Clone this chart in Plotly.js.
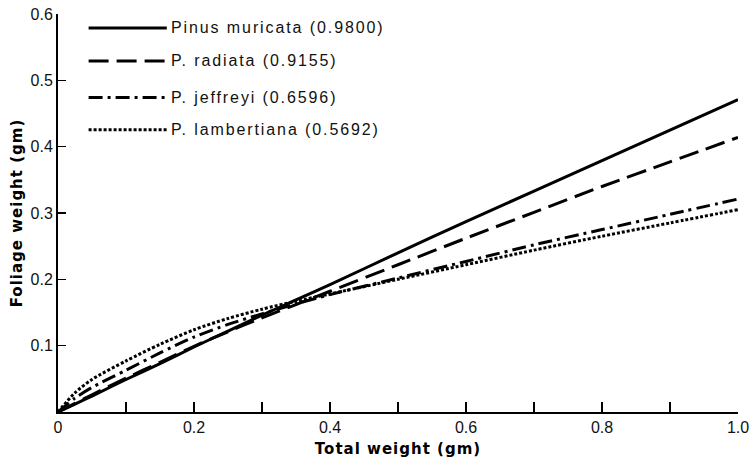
<!DOCTYPE html>
<html>
<head>
<meta charset="utf-8">
<script src="https://cdn.plot.ly/plotly-3.0.1.min.js"></script>
<style>
  html, body { margin: 0; padding: 0; background: #fff; }
  #chart { width: 752px; height: 459px; }
  .annotation-text { letter-spacing: 1.9px; }
  .xtitle, .ytitle { letter-spacing: 1px; }
</style>
</head>
<body>
<div id="chart"></div>
<script>
// Data
const totalWeight = [0, 0.025, 0.05, 0.1, 0.15, 0.2, 0.25, 0.3, 0.35, 0.4, 0.5, 0.6, 0.7, 0.8, 0.9, 1.0];
const muricata    = [0, 0.012, 0.024, 0.049, 0.073, 0.098, 0.122, 0.146, 0.169, 0.192, 0.240, 0.287, 0.333, 0.379, 0.425, 0.471];
const radiata     = [0, 0.013, 0.026, 0.051, 0.075, 0.099, 0.121, 0.142, 0.162, 0.182, 0.222, 0.262, 0.301, 0.340, 0.377, 0.414];
const jeffreyi    = [0, 0.021, 0.037, 0.063, 0.089, 0.113, 0.132, 0.148, 0.163, 0.177, 0.202, 0.227, 0.252, 0.275, 0.298, 0.321];
const lambertiana = [0, 0.029, 0.049, 0.077, 0.102, 0.124, 0.141, 0.155, 0.167, 0.178, 0.200, 0.222, 0.244, 0.265, 0.285, 0.305];

const seriesNames = ['Pinus muricata (0.9800)', 'P. radiata (0.9155)', 'P. jeffreyi (0.6596)', 'P. lambertiana (0.5692)'];
const seriesData  = [muricata, radiata, jeffreyi, lambertiana];

const xTickVals = [0, 0.1, 0.2, 0.3, 0.4, 0.5, 0.6, 0.7, 0.8, 0.9, 1.0];
const xTickText = ['0', '', '0.2', '', '0.4', '', '0.6', '', '0.8', '', '1.0'];
const yTickVals = [0.1, 0.2, 0.3, 0.4, 0.5, 0.6];
const yTickText = ['0.1', '0.2', '0.3', '0.4', '0.5', '0.6'];

// Styles
const dashes = ['solid', '20px,8px', '14px,5px,3px,5px', '3px,2px'];
const legendY = [0.965, 0.882, 0.79, 0.709];

const traces = seriesData.map((d, i) => ({
  x: totalWeight,
  y: d,
  type: 'scatter',
  mode: 'lines',
  name: seriesNames[i],
  line: { color: '#000', width: 3, dash: dashes[i], shape: 'spline', smoothing: 0.8 },
  showlegend: false,
  hoverinfo: 'skip'
}));

const shapes = legendY.map((y, i) => ({
  type: 'line', xref: 'paper', yref: 'paper',
  x0: 0.045, x1: 0.16, y0: y, y1: y,
  line: { color: '#000', width: 3, dash: dashes[i] }
}));

const annotations = legendY.map((y, i) => ({
  xref: 'paper', yref: 'paper', x: 0.163, y: y,
  xanchor: 'left', yanchor: 'middle', showarrow: false,
  text: seriesNames[i],
  font: { family: 'Liberation Sans, Arial, sans-serif', size: 16, color: '#111' }
}));

const layout = {
  width: 752, height: 459,
  margin: { l: 58, r: 14, t: 14, b: 47 },
  paper_bgcolor: '#fff', plot_bgcolor: '#fff',
  showlegend: false,
  xaxis: {
    range: [0, 1], showgrid: false, zeroline: false,
    showline: true, linecolor: '#000', linewidth: 2,
    ticks: 'inside', ticklen: 10, tickwidth: 1.5, tickcolor: '#000',
    tickvals: xTickVals, ticktext: xTickText,
    tickfont: { family: 'Liberation Sans, Arial, sans-serif', size: 16, color: '#111' },
    title: { text: 'Total weight (gm)', standoff: 8,
      font: { family: 'DejaVu Sans, sans-serif', size: 15, weight: 'bold', color: '#000' } }
  },
  yaxis: {
    range: [0, 0.6], showgrid: false, zeroline: false,
    showline: true, linecolor: '#000', linewidth: 2,
    ticks: 'inside', ticklen: 8, tickwidth: 1.5, tickcolor: '#000',
    tickvals: yTickVals, ticktext: yTickText,
    tickfont: { family: 'Liberation Sans, Arial, sans-serif', size: 16, color: '#111' },
    title: { text: 'Foliage weight (gm)', standoff: 4,
      font: { family: 'DejaVu Sans, sans-serif', size: 15, weight: 'bold', color: '#000' } }
  },
  shapes: shapes,
  annotations: annotations
};

Plotly.newPlot('chart', traces, layout, { displayModeBar: false, staticPlot: true });
</script>
</body>
</html>
